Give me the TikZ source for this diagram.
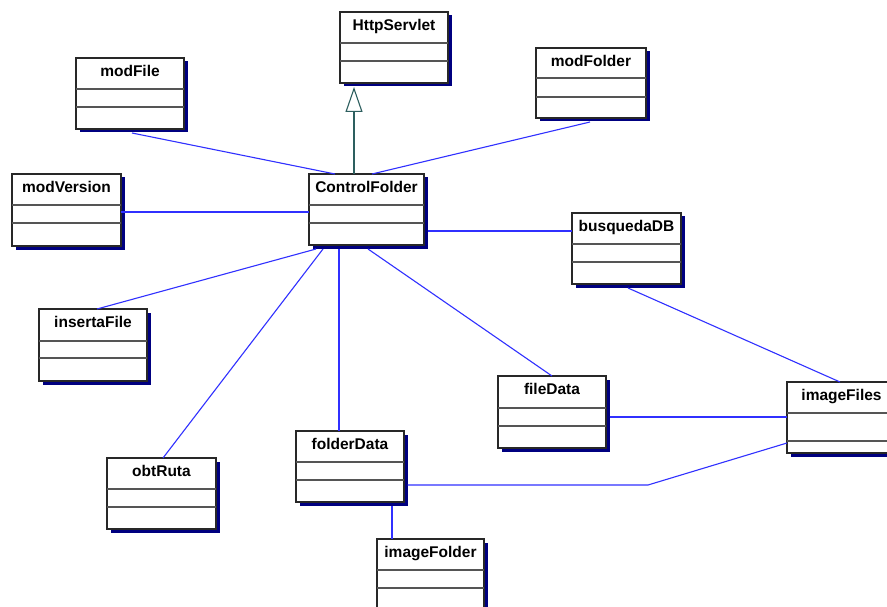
\documentclass[tikz,border=0pt]{standalone}
\usepackage{fontspec}
\setmainfont{Liberation Sans}
\usetikzlibrary{calc,shadows,arrows.meta}

\definecolor{assocblue}{RGB}{48,48,255}
\definecolor{genteal}{RGB}{45,95,95}
\definecolor{shadownavy}{RGB}{0,0,128}
\definecolor{borderdark}{RGB}{40,40,40}
\definecolor{divgray}{RGB}{85,85,85}

\tikzset{
  classbox/.style={draw=borderdark, line width=1.3bp, fill=white, rectangle,
    inner sep=0pt, outer sep=0pt, anchor=north west,
    drop shadow={shadow xshift=3.5bp, shadow yshift=-3.5bp, fill=shadownavy, opacity=1}},
  divider/.style={draw=divgray, line width=1.2bp},
  classlabel/.style={anchor=base, inner sep=0pt,
    font=\fontsize{15.5bp}{18bp}\selectfont\bfseries},
  assoc/.style={draw=assocblue, line width=1.1bp},
  generalize/.style={draw=genteal, line width=1.1bp,
    -{Triangle[open, length=25bp, width=17bp, line width=1.1bp]}},
}

% \umlclass{name}{x1}{y1}{x2}{y2}{divider1}{divider2}{label}
\newcommand\umlclass[8]{%
  \node[classbox, minimum width={(#4-#2)*1bp}, minimum height={(#5-#3)*1bp}]
    (#1) at (#2,#3) {};
  \draw[divider] (#2,#6) -- (#4,#6);
  \draw[divider] (#2,#7) -- (#4,#7);
  \node[classlabel] (#1-name) at ({(#2+#4)/2},#3+18.5) {#8};
}

\begin{document}
\begin{tikzpicture}[x=1bp,y=-1bp]
  \useasboundingbox (0,0) rectangle (887,607);
  \clip (0,0) rectangle (887,607);
  \fill[white] (0,0) rectangle (887,607);

  % classes
  \umlclass{http}{340}{12}{448}{83}{43}{61}{HttpServlet}
  \umlclass{cf}{309}{174}{424}{245}{205}{223}{ControlFolder}
  \umlclass{modfile}{76}{58}{184}{129}{89}{107}{modFile}
  \umlclass{modfolder}{536}{48}{646}{118}{78}{97}{modFolder}
  \umlclass{modversion}{12}{174}{121}{246}{205}{223}{modVersion}
  \umlclass{busq}{572}{213}{681}{284}{244}{262}{busquedaDB}
  \umlclass{inserta}{39}{309}{147}{381}{341}{358}{insertaFile}
  \umlclass{obtruta}{107}{458}{216}{529}{489}{507}{obtRuta}
  \umlclass{filedata}{498}{376}{606}{448}{408}{426}{fileData}
  \umlclass{folderdata}{296}{431}{404}{502}{462}{480}{folderData}
  \umlclass{imagefiles}{787}{382}{896}{453}{413}{441}{imageFiles}
  \umlclass{imagefolder}{377}{539}{484}{610}{570}{588}{imageFolder}

  % inheritance
  \draw[generalize] ($(cf.north west)+(45,0)$) -- ($(http.south west)+(14,4)$);

  % associations
  \draw[assoc] ($(modfile.south west)+(56,4)$) -- ($(cf.north west)+(26,0)$);
  \draw[assoc] ($(modfolder.south west)+(54,4)$) -- ($(cf.north west)+(63,0)$);
  \draw[assoc] ($(modversion.north east)+(0,38)$) -- ($(cf.north west)+(0,38)$);
  \draw[assoc] ($(cf.north east)+(3.5,57)$) -- ($(busq.north west)+(0,18)$);
  \draw[assoc] ($(inserta.north west)+(58,0)$) -- ($(cf.south west)+(7,4)$);
  \draw[assoc] ($(obtruta.north west)+(56,0)$) -- ($(cf.south west)+(14,4)$);
  \draw[assoc] ($(cf.south west)+(30,4)$) -- ($(folderdata.north west)+(43,0)$);
  \draw[assoc] ($(cf.south west)+(59,4)$) -- ($(filedata.north west)+(54,0)$);
  \draw[assoc] ($(filedata.north east)+(3.5,41)$) -- ($(imagefiles.north west)+(0,35)$);
  \draw[assoc] ($(busq.south west)+(56,4)$) -- ($(imagefiles.north west)+(53,0)$);
  \draw[assoc] ($(folderdata.north east)+(3.5,54)$) -- (648,485)
    -- ($(imagefiles.north west)+(0,61)$);
  \draw[assoc] ($(folderdata.south west)+(96,3.5)$) -- ($(imagefolder.north west)+(15,0)$);
\end{tikzpicture}
\end{document}
